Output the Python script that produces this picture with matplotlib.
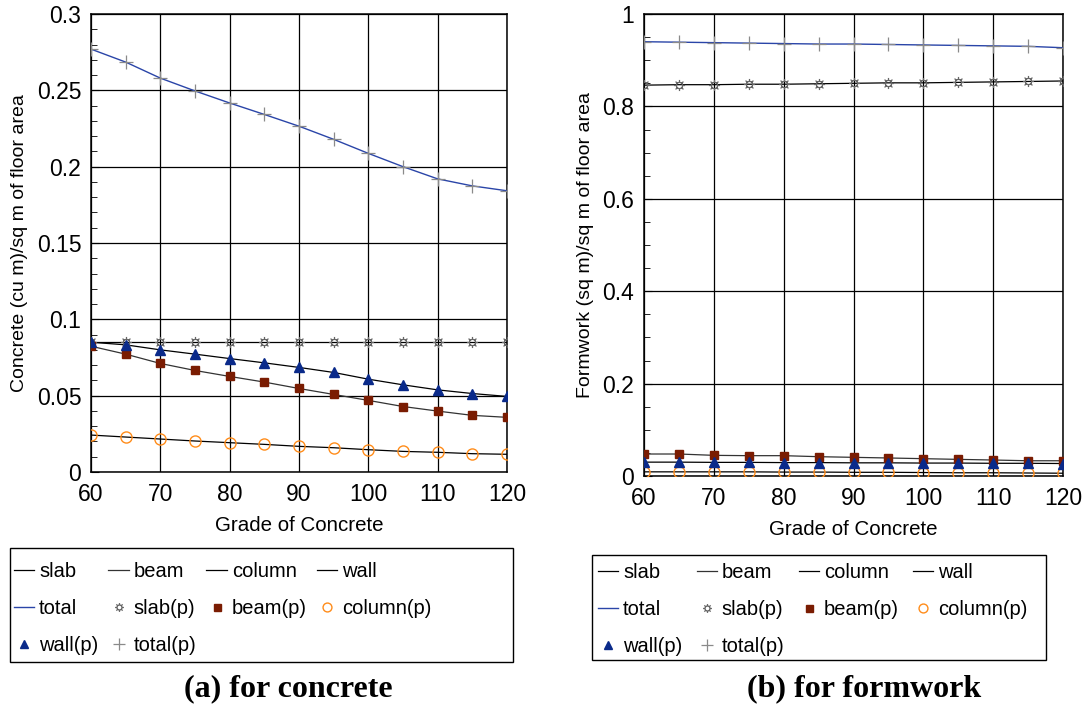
import matplotlib
matplotlib.use("Agg")
import matplotlib.pyplot as plt
from matplotlib.ticker import MultipleLocator
from matplotlib.patches import Rectangle
from matplotlib.path import Path
import numpy as np

plt.rcParams['font.family'] = ['Liberation Sans', 'DejaVu Sans']

grade = [60, 65, 70, 75, 80, 85, 90, 95, 100, 105, 110, 115, 120]

# (a) concrete quantities (cu m / sq m of floor area)
c_slab = [0.085, 0.085, 0.085, 0.085, 0.085, 0.085, 0.085, 0.085, 0.085, 0.085, 0.085, 0.085, 0.085]
c_beam = [0.0824, 0.0772, 0.0711, 0.0665, 0.0626, 0.0589, 0.0547, 0.0508, 0.0469, 0.0429, 0.0399, 0.0371, 0.0358]
c_column = [0.0242, 0.0229, 0.0216, 0.0203, 0.0192, 0.0181, 0.0168, 0.0159, 0.0146, 0.0135, 0.0129, 0.0120, 0.0116]
c_wall = [0.0850, 0.0833, 0.0800, 0.0772, 0.0743, 0.0715, 0.0685, 0.0652, 0.0608, 0.0571, 0.0538, 0.0514, 0.0495]
c_total = [0.277, 0.2685, 0.258, 0.2496, 0.2417, 0.2342, 0.2265, 0.2179, 0.2087, 0.200, 0.192, 0.1874, 0.1842]

# (b) formwork quantities (sq m / sq m of floor area)
f_slab = [0.846, 0.847, 0.847, 0.848, 0.848, 0.849, 0.850, 0.851, 0.851, 0.852, 0.853, 0.854, 0.855]
f_beam = [0.0476, 0.0476, 0.0447, 0.044, 0.044, 0.0418, 0.0404, 0.039, 0.0375, 0.036, 0.0346, 0.033, 0.033]
f_column = [0.009, 0.009, 0.009, 0.009, 0.0085, 0.0085, 0.008, 0.008, 0.0075, 0.007, 0.007, 0.0065, 0.006]
f_wall = [0.030, 0.030, 0.0295, 0.0295, 0.029, 0.029, 0.0285, 0.0285, 0.028, 0.028, 0.0275, 0.0275, 0.027]
f_total = [0.940, 0.939, 0.938, 0.937, 0.936, 0.935, 0.935, 0.934, 0.933, 0.932, 0.931, 0.930, 0.927]

xticks = [60, 70, 80, 90, 100, 110, 120]

BEAM_C = '#7a1c02'
WALL_C = '#0a2a8a'
COL_C = '#ff8c1a'
TOT_C = '#2a45a8'
SLABP_C = '#666666'
TOTP_C = '#8a8a8a'
TICK_FS = 16.5
LAB_FS = 14.8
YLAB_FS = 14.0
LEG_FS = 14.5

# sun-like marker: small circle with 8 short rays
_circ = Path.circle((0, 0), 0.5)
_rays = []
for k in range(8):
    a = k * np.pi / 4
    _rays.append(Path([(0.5 * np.cos(a), 0.5 * np.sin(a)), (0.9 * np.cos(a), 0.9 * np.sin(a))],
                      [Path.MOVETO, Path.LINETO]))
SUN = Path.make_compound_path(_circ, *_rays)

W, H = 1085.0, 705.0
fig = plt.figure(figsize=(10.85, 7.05), dpi=100)
ax1 = fig.add_axes([91 / W, 1 - 472 / H, 416 / W, 458 / H])
ax2 = fig.add_axes([644 / W, 1 - 476 / H, 419 / W, 462 / H])

def draw(ax, slab, beam, column, wall, total):
    hl = []
    hl.append(ax.plot(grade, slab, color='black', lw=0.9, label='slab', zorder=3)[0])
    hl.append(ax.plot(grade, beam, color='#333333', lw=0.9, label='beam', zorder=3)[0])
    hl.append(ax.plot(grade, column, color='black', lw=0.9, label='column', zorder=3)[0])
    hl.append(ax.plot(grade, wall, color='black', lw=0.9, label='wall', zorder=3)[0])
    hl.append(ax.plot(grade, total, color=TOT_C, lw=1.0, label='total', zorder=3)[0])
    hl.append(ax.plot(grade, slab, ls='none', marker=SUN, ms=8, mfc='none', mec=SLABP_C, mew=0.9,
                      label='slab(p)', zorder=4)[0])
    hl.append(ax.plot(grade, beam, ls='none', marker='s', ms=6.3, color=BEAM_C, label='beam(p)', zorder=4)[0])
    hl.append(ax.plot(grade, column, ls='none', marker='o', ms=8, mfc='none', mec=COL_C, mew=1.0,
                      label='column(p)', zorder=4)[0])
    hl.append(ax.plot(grade, wall, ls='none', marker='^', ms=6.8, color=WALL_C, label='wall(p)', zorder=4)[0])
    hl.append(ax.plot(grade, total, ls='none', marker='+', ms=10, mew=0.9, color=TOTP_C, label='total(p)', zorder=4)[0])
    ax.set_xlim(60, 120)
    ax.set_xticks(xticks)
    ax.grid(True, which='major', color='black', lw=0.9)
    ax.tick_params(axis='both', which='both', direction='in', labelsize=TICK_FS)
    ax.tick_params(axis='y', which='major', length=6, pad=7)
    ax.tick_params(axis='y', which='minor', length=4)
    ax.tick_params(axis='x', which='major', length=0, pad=8)
    for s in ax.spines.values():
        s.set_linewidth(1.1)
    ax.set_xlabel('Grade of Concrete', fontsize=LAB_FS, labelpad=7)
    return hl

h1 = draw(ax1, c_slab, c_beam, c_column, c_wall, c_total)
ax1.set_ylim(0, 0.3)
ax1.set_yticks([0, 0.05, 0.1, 0.15, 0.2, 0.25, 0.3])
ax1.set_yticklabels(['0', '0.05', '0.1', '0.15', '0.2', '0.25', '0.3'])
ax1.yaxis.set_minor_locator(MultipleLocator(0.01))
ax1.set_ylabel('Concrete (cu m)/sq m of floor area', fontsize=YLAB_FS, labelpad=6)

h2 = draw(ax2, f_slab, f_beam, f_column, f_wall, f_total)
ax2.set_ylim(0, 1)
ax2.set_yticks([0, 0.2, 0.4, 0.6, 0.8, 1.0])
ax2.set_yticklabels(['0', '0.2', '0.4', '0.6', '0.8', '1'])
ax2.yaxis.set_minor_locator(MultipleLocator(0.05))
ax2.set_ylabel('Formwork (sq m)/sq m of floor area', fontsize=YLAB_FS, labelpad=6)

order = [0, 4, 8, 1, 5, 9, 2, 6, 3, 7]

def make_legend(handles, x0, y0, box, colsp):
    hs = [handles[i] for i in order]
    leg = fig.legend(hs, [h.get_label() for h in hs], loc='upper left',
                     bbox_to_anchor=(x0 / W, 1 - y0 / H), bbox_transform=fig.transFigure,
                     ncol=4, fontsize=LEG_FS, frameon=False, markerscale=0.8,
                     handlelength=1.0, handletextpad=0.25, labelspacing=0.9,
                     borderpad=0, borderaxespad=0, columnspacing=colsp)
    bx0, by0, bx1, by1 = box
    fig.patches.append(Rectangle((bx0 / W, 1 - by1 / H), (bx1 - bx0) / W, (by1 - by0) / H,
                                 transform=fig.transFigure, fill=False, edgecolor='black', lw=1.0))
    return leg

make_legend(h1, 14, 562, (10, 548, 513, 662), 0.5)
make_legend(h2, 598, 563, (592, 555, 1046, 660), 0.7)

fig.text(288 / W, 0.012, '(a) for concrete', fontsize=23, fontweight='bold',
         family='Liberation Serif', ha='center', va='baseline')
fig.text(864 / W, 0.012, '(b) for formwork', fontsize=23, fontweight='bold',
         family='Liberation Serif', ha='center', va='baseline')

fig.savefig('out.png', dpi=100)
